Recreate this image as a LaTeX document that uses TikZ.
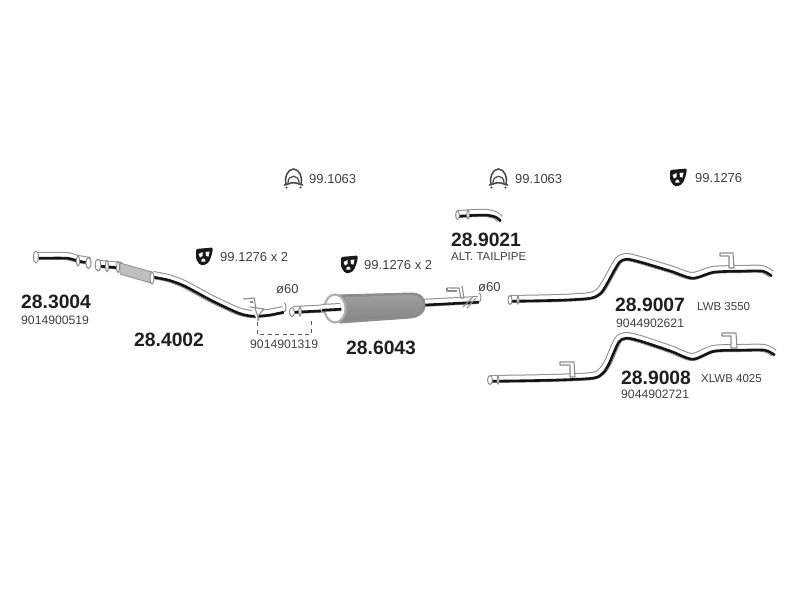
\documentclass[tikz,border=0pt]{standalone}
\usepackage{fontspec}
\setmainfont{Liberation Sans}
\definecolor{tg}{gray}{0.25}
\definecolor{pg}{gray}{0.55}
\tikzset{
 big/.style={font=\fontsize{19.3}{20}\selectfont\bfseries,text=black!88,inner sep=0pt},
 small/.style={font=\fontsize{12.2}{13}\selectfont,text=tg,inner sep=0pt},
 mid/.style={font=\fontsize{13}{14}\selectfont,text=tg,inner sep=0pt},
 mini/.style={font=\fontsize{11.5}{13}\selectfont,text=tg,inner sep=0pt},
 pipeout/.style={draw=pg,line width=8pt,line join=round},
 pipein/.style={draw=white,line width=6pt,line join=round},
 pipedark/.style={draw=black!92,line width=2.6pt,line join=round,yshift=-2.2pt,xshift=0.8pt},
 ring/.style={draw=pg,fill=white,line width=1pt},
 brk/.style={draw=pg,line width=1.1pt,fill=white,line join=round},
 dashlink/.style={draw=black!65,line width=1pt,dash pattern=on 4pt off 3.5pt},
}
\newcommand{\pipe}[1]{\path[pipeout] plot[smooth,tension=0.45] coordinates {#1}; \path[pipein] plot[smooth,tension=0.45] coordinates {#1}; \path[pipedark] plot[smooth,tension=0.45] coordinates {#1};}
\newcommand{\clampicon}[2]{\begin{scope}[shift={(#1,#2)}]
 \draw[draw=black!72,line width=1.5pt]
  (-7.5,6.5) .. controls (-9.5,0) and (-6,-9) .. (0,-9) .. controls (6,-9) and (9.5,0) .. (7.5,6.5);
 \draw[draw=black!72,fill=white,line width=1.2pt] (-5.5,5) .. controls (-6,-4) and (6,-4) .. (5.5,5);
 \draw[draw=black!72,line width=1.6pt,line cap=round] (-9,7) -- (-4,5.5) .. controls (-2,4.5) and (2,4.5) .. (4,5.5) -- (9,7);
 \fill[black!72] (-7,9.5) circle (1.2) (7,9.5) circle (1.2);
\end{scope}}
\newcommand{\hangericon}[2]{\begin{scope}[shift={(#1,#2)}]
 \fill[black!90,rounded corners=1.5pt] (-8,-7) -- (9,-8.5) -- (8,-2) -- (5,6) -- (1,9) -- (-4,9) -- (-8,3) -- cycle;
 \fill[white] (-5.5,-2) -- (-1.5,-4) -- (-1.5,0) -- (-4,1.5) -- cycle;
 \fill[white] (1.5,-4) -- (5.5,-4.5) -- (4.5,0.5) -- (2,0) -- cycle;
 \fill[white] (-2.8,5.5) .. controls (-3,1.5) and (1.5,1.5) .. (1.5,5.5) -- cycle;
\end{scope}}
\begin{document}
\begin{tikzpicture}[x=1pt,y=-1pt]
\useasboundingbox[fill=white] (0,0) rectangle (800,600);

% icons
\clampicon{293.5}{178}
\clampicon{498.5}{178}
\hangericon{678}{177}
\hangericon{204}{256}
\hangericon{349}{264}

% 28.3004
\pipe{(38,256) (66,256) (78,259) (90,261)}
\draw[ring] (36,257) ellipse (2.5 and 6);
\draw[ring] (78,261) ellipse (1.6 and 5);
\draw[ring] (88.5,263) ellipse (2.6 and 5.5);

% 28.4002
\pipe{(100,264) (122,266)}
\draw[ring] (98,265) ellipse (2.8 and 6);
\draw[ring] (107,266) ellipse (1.5 and 5.5);
\draw[ring] (118,267) ellipse (1.5 and 5.5);
\draw[draw=pg,fill=gray!50,line width=0.8pt] (120,263) -- (152,272) -- (151,283) -- (120,274) -- cycle;
\pipe{(153,275) (168,278) (184,284) (212,299) (238,311) (252,314) (268,313) (283,310)}
\draw[ring] (152,278) ellipse (2 and 6);
\draw[ring] (284,312) arc[start angle=-90,end angle=90,x radius=2,y radius=-4.5];
\draw[brk] (243,299) -- (254,298) -- (256,309);
\draw[brk] (250,302) -- (253,302);
\draw[brk] (250,307) -- (264,309) -- (258,316) -- (258,321);
\draw[brk] (255,308) -- (259,320);

% 28.6043
\pipe{(293,310) (335,308)}
\draw[ring] (292,312) ellipse (2.5 and 4.5);
\draw[ring] (300,311.5) ellipse (1.2 and 4.5);
\pipe{(420,303) (478,300)}
\draw[draw=pg,fill=pg,line width=0.9pt] (335,295) -- (411,293) .. controls (421,293) and (425,298) .. (425,305) .. controls (425,313) and (419,317) .. (411,318) -- (340,323) -- cycle;
\shade[top color=gray!75,bottom color=gray!95] (345,297) -- (412,295) .. controls (420,296) and (423,300) .. (423,305) .. controls (423,311) and (418,315) .. (411,316) -- (345,320.5) -- cycle;
\draw[draw=gray!62,fill=white,line width=2.2pt] (335,308.5) ellipse (10.5 and 14);
\path[pipeout] (321,308) -- (340.5,307);
\path[pipein] (321,308) -- (340.5,307);
\path[pipedark] (321,308) -- (340.5,307);
\draw[ring] (479,302) arc[start angle=-90,end angle=90,x radius=2,y radius=-4.5];
\draw[brk] (447,288) -- (459,288) -- (461,298) -- (464,298) -- (462,286);
\draw[brk] (447,288) -- (447,291) -- (457,291);
\draw[brk] (463,307) -- (473,297);
\draw[brk] (467,308) -- (476,298);

% 28.9021
\pipe{(458,214) (476,213) (487,213) (495,215) (500,219)}
\draw[ring] (457.5,215) ellipse (1.8 and 4.5);
\draw[ring] (468,214.5) ellipse (1.2 and 4.5);

% 28.9007
\pipe{(510,299) (560,298) (590,296) (600,291) (606,282) (618,261) (626,257) (640,260) (670,269) (692,276) (713,270) (740,269) (762,269) (771,274)}
\draw[ring] (510,300) ellipse (2 and 4.5);
\draw[ring] (518,300) ellipse (1 and 4);
\draw[brk] (720,253) -- (733,253) -- (734,268) -- (729,268) -- (729,256) -- (720,256) -- cycle;

% 28.9008
\pipe{(491,379) (550,378) (592,376) (602,371) (608,362) (618,340) (626,336) (640,339) (670,349) (692,357) (713,349) (740,348) (764,348) (774,353)}
\draw[ring] (490,380) ellipse (2.4 and 4.5);
\draw[ring] (498,380) ellipse (1 and 4);
\draw[brk] (722,333) -- (736,333) -- (737,348) -- (731,348) -- (731,336) -- (722,336) -- cycle;
\draw[brk] (560,362) -- (574,362) -- (575,377) -- (570,377) -- (570,365) -- (560,365) -- cycle;

% dashed link
\coordinate (dashA) at (257,322);
\coordinate (dashB) at (257,334);
\coordinate (dashC) at (311,334);
\coordinate (dashD) at (311,320);
\draw[dashlink] (dashA) -- (dashB) -- (dashC) -- (dashD);

% labels
\node[big,anchor=west] (p3004) at (21,302) {28.3004};
\node[small,anchor=west] (n3004) at (21,320) {9014900519};
\node[big,anchor=west] (p4002) at (134,340) {28.4002};
\node[small,anchor=west] (n1319) at (250,344) {9014901319};
\node[big,anchor=west] (p6043) at (346,348) {28.6043};
\node[big,anchor=west] (p9021) at (451,240) {28.9021};
\node[mini,anchor=west] (alt) at (451,257) {ALT. TAILPIPE};
\node[big,anchor=west] (p9007) at (615,305) {28.9007};
\node[mini,anchor=west] (lwb) at (697,307) {LWB 3550};
\node[small,anchor=west] (n2621) at (616,323) {9044902621};
\node[big,anchor=west] (p9008) at (621,378) {28.9008};
\node[mini,anchor=west] (xlwb) at (701,379) {XLWB 4025};
\node[small,anchor=west] (n2721) at (621,394) {9044902721};
\node[mid,anchor=west] (c1) at (309,179) {99.1063};
\node[mid,anchor=west] (c2) at (515,179) {99.1063};
\node[mid,anchor=west] (h1) at (695,178) {99.1276};
\node[mid,anchor=west] (h2) at (220,257) {99.1276 x 2};
\node[mid,anchor=west] (h3) at (364,265) {99.1276 x 2};
\node[mid,anchor=west] (d1) at (276,289) {ø60};
\node[mid,anchor=west] (d2) at (478,287) {ø60};
\end{tikzpicture}
\end{document}
